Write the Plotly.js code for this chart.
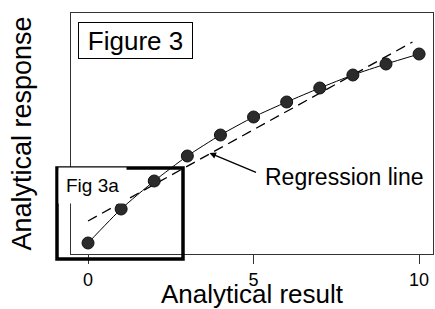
<!DOCTYPE html>
<html>
<head>
<meta charset="utf-8">
<script src="https://cdn.plot.ly/plotly-3.0.1.min.js"></script>
<style>html,body{margin:0;padding:0;background:#fff;}#chart{width:435px;height:309px;}</style>
</head>
<body>
<div id="chart"></div>
<script>
var resultX = [0, 1, 2, 3, 4, 5, 6, 7, 8, 9, 10];
var responseY = [11, 45, 73, 98, 119, 137, 152, 166, 179, 190, 200];
var regressionX = [0, 9.8];
var regressionY = [33, 212];
var xTickVals = [0, 5, 10];
var xTickText = ['0', '5', '10'];

var FONT = 'Liberation Sans, Arial, Helvetica, sans-serif';

var traces = [
  {
    x: regressionX, y: regressionY, mode: 'lines', type: 'scatter',
    line: {color: '#000', width: 1.3, dash: '10px,6px'}, hoverinfo: 'skip'
  },
  {
    x: resultX, y: responseY, mode: 'lines+markers', type: 'scatter',
    line: {color: '#000', width: 1, shape: 'spline', smoothing: 0.6},
    marker: {size: 12, color: '#2b2b2b', line: {color: '#111', width: 1}}
  }
];

var layout = {
  width: 435, height: 309,
  margin: {l: 71, r: 2, t: 13, b: 55},
  paper_bgcolor: '#fff', plot_bgcolor: '#fff',
  showlegend: false,
  font: {family: FONT, color: '#000'},
  xaxis: {
    range: [-0.514, 10.42], showgrid: false, zeroline: false,
    showline: true, mirror: true, linecolor: '#333', linewidth: 1,
    ticks: 'outside', ticklen: 9, tickcolor: '#333', tickwidth: 1,
    tickvals: xTickVals, ticktext: xTickText,
    tickfont: {size: 18, family: FONT, color: '#000'},
    title: {text: 'Analytical result', font: {size: 26, family: FONT, color: '#000'}, standoff: 8},
    automargin: false
  },
  yaxis: {
    range: [0, 241], showgrid: false, zeroline: false,
    showline: true, mirror: true, linecolor: '#333', linewidth: 1,
    ticks: '', showticklabels: false,
    title: {text: 'Analytical response', font: {size: 27, family: FONT, color: '#000'}, standoff: 30},
    automargin: false
  },
  shapes: [
    {type: 'rect', xref: 'paper', yref: 'paper',
     x0: (57 - 71) / 362, x1: (183 - 71) / 362,
     y0: (254 - 259) / 241, y1: (254 - 168) / 241,
     line: {color: '#000', width: 3.5}, fillcolor: 'rgba(0,0,0,0)', layer: 'above'}
  ],
  annotations: [
    {text: 'Figure 3', xref: 'paper', yref: 'paper',
     x: (135.5 - 71) / 362, y: (254 - 40.5) / 241, xanchor: 'center', yanchor: 'middle',
     showarrow: false, font: {size: 26, family: FONT, color: '#000'},
     bordercolor: '#000', borderwidth: 1, bgcolor: '#fff', width: 111, height: 33, borderpad: 1},
    {text: 'Fig 3a', xref: 'paper', yref: 'paper',
     x: (58 - 71) / 362, y: (254 - 185) / 241, xanchor: 'left', yanchor: 'middle',
     showarrow: false, font: {size: 19, family: FONT, color: '#000'},
     bgcolor: '#fff', borderpad: 7},
    {text: '', xref: 'x', yref: 'y',
     x: 3.67, y: 101, ax: 48, ay: 20,
     showarrow: true, arrowhead: 2, arrowsize: 1, arrowwidth: 1.3, arrowcolor: '#000'},
    {text: 'Regression line', xref: 'paper', yref: 'paper',
     x: (263 - 71) / 362, y: (254 - 177) / 241, xanchor: 'left', yanchor: 'middle',
     showarrow: false, font: {size: 23, family: FONT, color: '#000'}}
  ]
};

Plotly.newPlot('chart', traces, layout, {displayModeBar: false, staticPlot: true});
</script>
</body>
</html>
